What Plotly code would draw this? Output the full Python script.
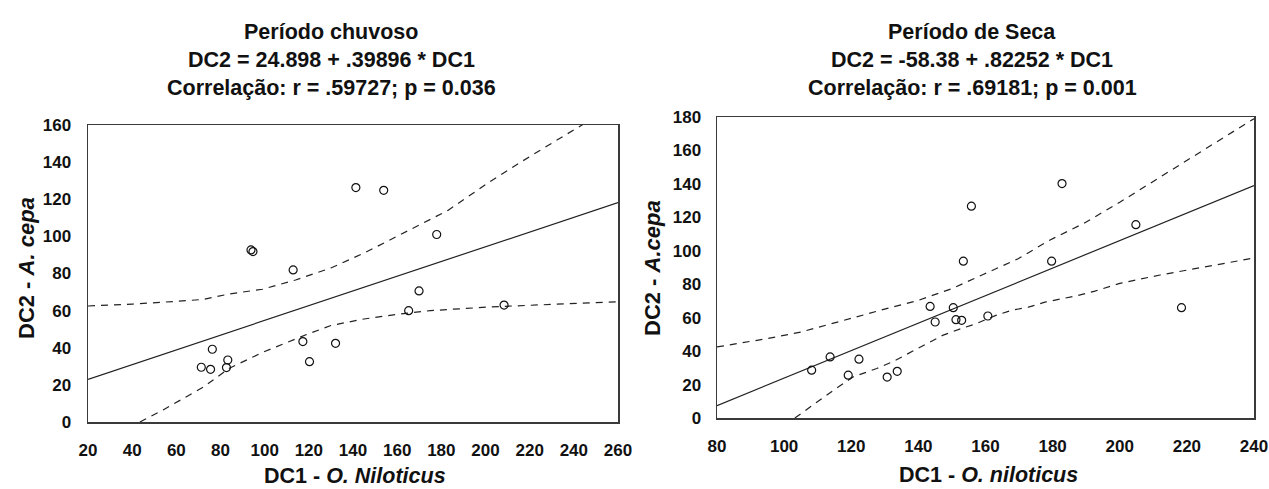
import plotly.graph_objects as go

# ---------------- Data ----------------
# Left panel: Período chuvoso
rain_x = [71.3, 75.5, 76.3, 82.7, 83.3, 93.8, 94.7, 112.9, 117.3, 120.3,
          132.1, 141.3, 153.9, 165.2, 169.9, 177.9, 208.4]
rain_y = [29.5, 28.4, 39.2, 29.3, 33.4, 92.7, 91.8, 81.9, 43.3, 32.5,
          42.4, 126.3, 124.8, 60.0, 70.6, 101.0, 63.0]
rain_fit_x = [20, 260]
rain_fit_y = [23.0, 118.2]
rain_up_x = [20, 40, 60, 72, 84, 99, 114, 130, 145, 160, 172, 183, 202, 220, 243, 260]
rain_up_y = [62.5, 63.5, 65, 66, 69, 71.5, 76.5, 83, 91, 100, 107, 114, 129.5, 143, 159.5, 172]
rain_lo_x = [43.5, 54, 72.5, 84, 100, 118.7, 130, 145, 160, 175, 202, 230, 260]
rain_lo_y = [0, 6.5, 19, 29, 38, 47, 52, 55.5, 58, 60, 62, 63.5, 64.8]

# Right panel: Período de Seca
dry_x = [108.2, 113.7, 119.1, 122.3, 130.7, 133.7, 143.5, 145.0, 150.4, 151.2,
         152.9, 160.7, 218.4, 153.4, 155.8, 182.8, 179.7, 204.8]
dry_y = [28.6, 36.5, 25.6, 35.2, 24.5, 27.9, 66.7, 57.4, 66.0, 58.8,
         58.4, 61.0, 66.0, 93.8, 126.7, 140.2, 93.8, 115.6]
dry_fit_x = [80, 240]
dry_fit_y = [7.4, 139.0]
dry_up_x = [80, 95, 105, 115, 120.6, 130.5, 139.9, 149.9, 159.3, 169.7, 178.9, 189.3, 200, 212, 224, 240]
dry_up_y = [42.5, 47.5, 51.4, 57, 60, 65.4, 70.3, 77.3, 85.8, 95.2, 106.1, 116.4, 129, 144, 159.5, 179]
dry_lo_x = [103.2, 110, 115, 120.6, 127.6, 132.3, 137.7, 142.5, 147.2, 152.6, 157.2, 163.1,
            167.8, 172.8, 177.7, 182.7, 187.6, 192.6, 196.1, 200, 212, 224, 240]
dry_lo_y = [0, 10, 17, 24.6, 29.6, 33.6, 39.5, 44.5, 49.4, 53.4, 56.4, 61.4,
            64.4, 66.3, 69.3, 71.3, 73.3, 75.9, 77.9, 80.5, 85.5, 89.8, 95.7]

titles = [
    ["Período chuvoso", "DC2 = 24.898 + .39896 * DC1", "Correlação: r = .59727; p = 0.036"],
    ["Período de Seca", "DC2 = -58.38 + .82252 * DC1", "Correlação: r = .69181; p = 0.001"],
]
x_titles = ["<b>DC1 - <i>O. Niloticus</i></b>", "<b>DC1 - <i>O. niloticus</i></b>"]
y_titles = ["<b>DC2 - <i>A. cepa</i></b>", "<b>DC2 - <i>A.cepa</i></b>"]

# ---------------- Figure ----------------
W, H = 1269, 489
FONT = "Liberation Sans, Arial, sans-serif"
fig = go.Figure()

dash_style = dict(color="#222222", width=1.2, dash="7px,6px")
solid_style = dict(color="#222222", width=1.2)


def add_panel(px, py, fx, fy, ux, uy, lx, ly, xa, ya):
    common = dict(xaxis=xa, yaxis=ya, showlegend=False, hoverinfo="skip")
    fig.add_trace(go.Scatter(x=ux, y=uy, mode="lines", line=dash_style, **common))
    fig.add_trace(go.Scatter(x=lx, y=ly, mode="lines", line=dash_style, **common))
    fig.add_trace(go.Scatter(x=fx, y=fy, mode="lines", line=solid_style, **common))
    fig.add_trace(go.Scatter(x=px, y=py, mode="markers",
                             marker=dict(symbol="circle-open", size=8, color="#111111",
                                         line=dict(width=1.2, color="#111111")),
                             **common))


add_panel(rain_x, rain_y, rain_fit_x, rain_fit_y, rain_up_x, rain_up_y,
          rain_lo_x, rain_lo_y, "x", "y")
add_panel(dry_x, dry_y, dry_fit_x, dry_fit_y, dry_up_x, dry_up_y,
          dry_lo_x, dry_lo_y, "x2", "y2")

# plot boxes in page pixels
L_box = dict(x0=88, x1=618, top=125, bottom=422)
R_box = dict(x0=717, x1=1254, top=117, bottom=418)


def px2x(p):
    return p / W


def px2y(p):
    return 1 - p / H


def xdom(b):
    return [px2x(b["x0"]), px2x(b["x1"])]


def ydom(b):
    return [px2y(b["bottom"]), px2y(b["top"])]


axis_common = dict(showgrid=False, zeroline=False, showline=True, mirror=True,
                   automargin=False,
                   linecolor="#3a3a3a", linewidth=1.5, ticks="outside", ticklen=0,
                   tickfont=dict(family=FONT, size=17, color="#111111", weight="bold"))

fig.update_layout(
    template="none",
    width=W, height=H,
    margin=dict(l=0, r=0, t=0, b=0, autoexpand=False),
    paper_bgcolor="white", plot_bgcolor="white",
    hovermode=False,
    xaxis=dict(domain=xdom(L_box), range=[20, 260], tick0=20, dtick=20,
               ticklabelstandoff=12, anchor="y", **axis_common),
    yaxis=dict(domain=ydom(L_box), range=[0, 160], tick0=0, dtick=20,
               ticklabelstandoff=12, anchor="x", **axis_common),
    xaxis2=dict(domain=xdom(R_box), range=[80, 240], tick0=80, dtick=20,
                ticklabelstandoff=12, anchor="y2", **axis_common),
    yaxis2=dict(domain=ydom(R_box), range=[0, 180], tick0=0, dtick=20,
                ticklabelstandoff=11, anchor="x2", **axis_common),
)

ann = []
title_cx = [331, 972]
title_y = [32, 60, 88]
for i in range(2):
    for j, line in enumerate(titles[i]):
        ann.append(dict(text="<b>" + line + "</b>", x=px2x(title_cx[i]), y=px2y(title_y[j]),
                        xref="paper", yref="paper", xanchor="center", yanchor="middle",
                        showarrow=False, font=dict(family=FONT, size=21.5, color="#111111")))

# axis titles
x_title_pos = [(355, 476), (988, 475)]
y_title_pos = [(26, 268), (652, 268)]
for i in range(2):
    xt, yt = x_title_pos[i]
    ann.append(dict(text=x_titles[i], x=px2x(xt), y=px2y(yt), xref="paper", yref="paper",
                    xanchor="center", yanchor="middle", showarrow=False,
                    font=dict(family=FONT, size=21.5, color="#111111")))
    xt, yt = y_title_pos[i]
    ann.append(dict(text=y_titles[i], x=px2x(xt), y=px2y(yt), xref="paper", yref="paper",
                    xanchor="center", yanchor="middle", showarrow=False, textangle=-90,
                    font=dict(family=FONT, size=22, color="#111111")))

fig.update_layout(annotations=ann)

# remove the default page margin so the figure fills the 1269x489 window exactly
fig.write_html("out.html",
               config={"displayModeBar": False, "staticPlot": True},
               post_script="document.body.style.margin='0';document.body.style.overflow='hidden';")
